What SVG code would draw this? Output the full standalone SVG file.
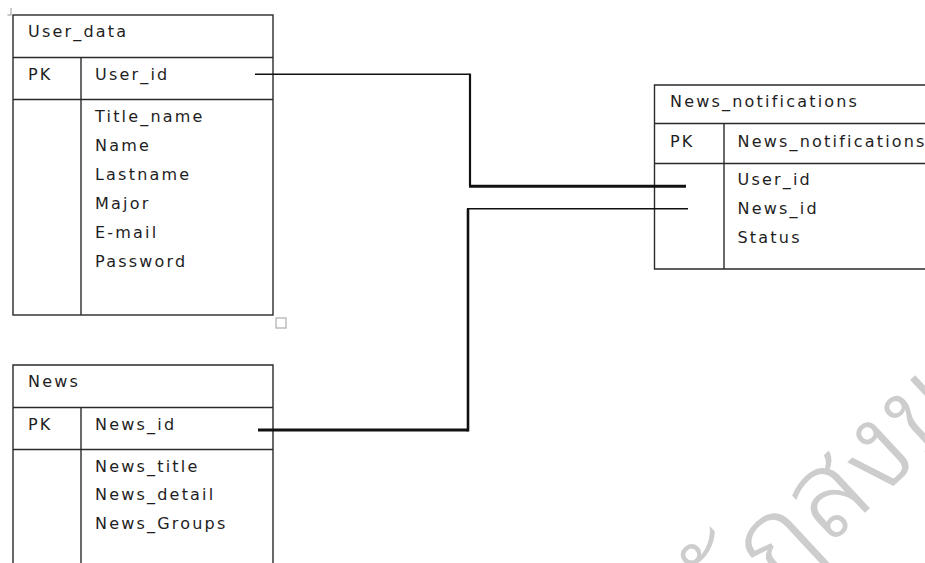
<svg xmlns="http://www.w3.org/2000/svg" width="925" height="563" viewBox="0 0 925 563">
  <style>
    .box { fill: none; stroke: #2a2a2a; stroke-width: 1.4; }
    .lbl { font-family: "DejaVu Sans", "Verdana", sans-serif; font-size: 16px; letter-spacing: 2.2px; fill: #1e1e1e; }
    .wire { fill: none; stroke: #111; stroke-linejoin: miter; }
    .mark { fill: none; stroke: #b4b4b4; stroke-width: 1.3; }
    .wm { font-family: "Noto Sans Thai Looped", "Noto Sans Thai", "Noto Sans", "DejaVu Sans", sans-serif; font-size: 120px; font-weight: 300; fill: #cdcdcd; }
  </style>
  <rect width="925" height="563" fill="#ffffff"/>

  <!-- watermark -->
  <g id="watermark">
    <text class="wm" transform="translate(772,542) rotate(-43)" x="-108" y="42">ภัฏสงข</text>
  </g>

  <!-- User_data table -->
  <g id="user_data">
    <path class="mark" d="M7.5 15 H11 V8"/>
    <rect class="box" x="13" y="15" width="260" height="300"/>
    <line class="box" x1="13" y1="57.5" x2="273" y2="57.5"/>
    <line class="box" x1="13" y1="99.5" x2="273" y2="99.5"/>
    <line class="box" x1="81" y1="57.5" x2="81" y2="315"/>
    <rect class="mark" x="276" y="318" width="10" height="10"/>
    <text class="lbl" x="28" y="37">User_data</text>
    <text class="lbl" x="28" y="80">PK</text>
    <text class="lbl" x="95" y="80">User_id</text>
    <text class="lbl" x="95" y="121.5">Title_name</text>
    <text class="lbl" x="95" y="150.5">Name</text>
    <text class="lbl" x="95" y="179.5">Lastname</text>
    <text class="lbl" x="95" y="208.5">Major</text>
    <text class="lbl" x="95" y="237.5">E-mail</text>
    <text class="lbl" x="95" y="266.5">Password</text>
  </g>

  <!-- News table -->
  <g id="news">
    <path class="box" d="M13 563 V365 H273 V563"/>
    <line class="box" x1="13" y1="407.5" x2="273" y2="407.5"/>
    <line class="box" x1="13" y1="449.5" x2="273" y2="449.5"/>
    <line class="box" x1="81" y1="407.5" x2="81" y2="563"/>
    <text class="lbl" x="28" y="387">News</text>
    <text class="lbl" x="28" y="430">PK</text>
    <text class="lbl" x="95" y="430">News_id</text>
    <text class="lbl" x="95" y="471.5">News_title</text>
    <text class="lbl" x="95" y="500">News_detail</text>
    <text class="lbl" x="95" y="528.5">News_Groups</text>
  </g>

  <!-- News_notifications table -->
  <g id="news_notifications">
    <path class="box" d="M930 85 H654.5 V269 H930"/>
    <line class="box" x1="654.5" y1="123.5" x2="930" y2="123.5"/>
    <line class="box" x1="654.5" y1="163.5" x2="930" y2="163.5"/>
    <line class="box" x1="724" y1="123.5" x2="724" y2="269"/>
    <text class="lbl" x="670" y="107">News_notifications</text>
    <text class="lbl" x="670" y="147">PK</text>
    <text class="lbl" x="737.5" y="147">News_notifications</text>
    <text class="lbl" x="737.5" y="185">User_id</text>
    <text class="lbl" x="737.5" y="213.5">News_id</text>
    <text class="lbl" x="737.5" y="242.5">Status</text>
  </g>

  <!-- connectors -->
  <g id="connectors">
    <!-- User_data.User_id to News_notifications.User_id -->
    <path class="wire" stroke-width="1.5" d="M255 74.3 H470"/>
    <path class="wire" stroke-width="2.2" d="M470 73.6 V186.3"/>
    <path class="wire" stroke-width="3" d="M469 186.3 H686"/>
    <!-- News.News_id to News_notifications.News_id -->
    <path class="wire" stroke-width="3" d="M258 430 H468"/>
    <path class="wire" stroke-width="2.6" d="M468 431.5 V208.7"/>
    <path class="wire" stroke-width="1.5" d="M467 208.7 H688"/>
  </g>
</svg>
